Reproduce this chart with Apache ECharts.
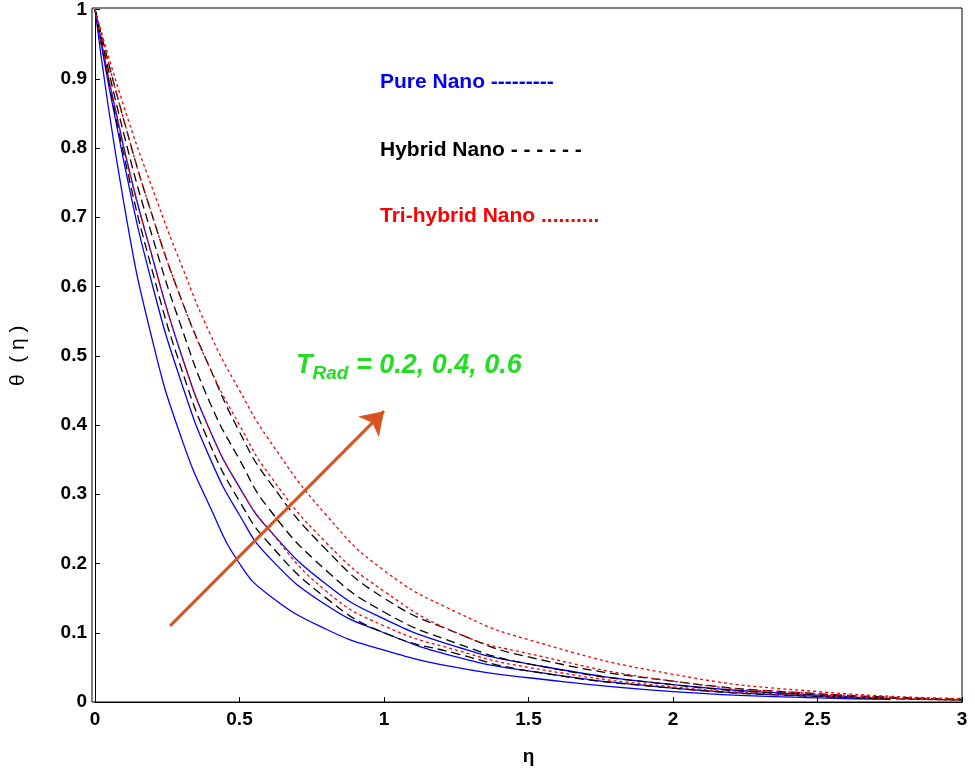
<!DOCTYPE html>
<html><head><meta charset="utf-8">
<script src="https://cdn.jsdelivr.net/npm/echarts@6/dist/echarts.min.js"></script>
<style>body{margin:0;background:#fff}#c{width:975px;height:778px}</style>
</head><body><div id="c"></div>
<script>
var etaPts = [0, 0.1, 0.2, 0.3, 0.4, 0.5, 0.6, 0.8, 1.0, 1.25, 1.5, 2.0, 2.5, 2.75];
var etaPtsLong = [0, 0.1, 0.2, 0.3, 0.4, 0.5, 0.6, 0.8, 1.0, 1.25, 1.5, 2.0, 2.5, 3.0];
var pure1 = [1, 0.72, 0.52, 0.38, 0.28, 0.20, 0.155, 0.105, 0.075, 0.05, 0.035, 0.015, 0.006, 0.004];
var pure2 = [1, 0.78, 0.60, 0.46, 0.35, 0.27, 0.21, 0.14, 0.10, 0.065, 0.045, 0.02, 0.008, 0.005];
var pure3 = [1, 0.80, 0.64, 0.50, 0.39, 0.31, 0.25, 0.17, 0.12, 0.08, 0.055, 0.025, 0.01, 0.005];
var hyb1 = [1, 0.79, 0.62, 0.48, 0.37, 0.29, 0.23, 0.15, 0.10, 0.07, 0.045, 0.02, 0.008, 0.003];
var hyb2 = [1, 0.82, 0.67, 0.54, 0.43, 0.35, 0.28, 0.19, 0.13, 0.085, 0.055, 0.025, 0.01, 0.003];
var hyb3 = [1, 0.84, 0.70, 0.58, 0.48, 0.39, 0.32, 0.22, 0.15, 0.10, 0.065, 0.03, 0.012, 0.004];
var tri1 = [1, 0.80, 0.64, 0.50, 0.39, 0.31, 0.25, 0.16, 0.11, 0.075, 0.05, 0.022, 0.009, 0.003];
var tri2 = [1, 0.84, 0.70, 0.58, 0.48, 0.40, 0.33, 0.23, 0.16, 0.10, 0.07, 0.03, 0.012, 0.004];
var tri3 = [1, 0.86, 0.74, 0.63, 0.53, 0.45, 0.38, 0.27, 0.19, 0.13, 0.09, 0.04, 0.015, 0.005];
var arrowFrom = [0.26, 0.11], arrowTo = [1.0, 0.42];

function pairs(xs, ys) { return xs.map(function (x, i) { return [x, ys[i]]; }); }
function mk(xs, ys, color, type) {
    return { type: 'line', smooth: 0.5, symbol: 'none', data: pairs(xs, ys),
        lineStyle: { color: color, width: 1.3, type: type } };
}
var axisLbl = { color: '#000', fontSize: 19, fontWeight: 'bold', fontFamily: 'Arial' };
var series = [
    mk(etaPts, pure1, '#0000ff', 'solid'), mk(etaPts, pure2, '#0000ff', 'solid'), mk(etaPts, pure3, '#0000ff', 'solid'),
    mk(etaPtsLong, hyb1, '#000', [9, 5]), mk(etaPtsLong, hyb2, '#000', [9, 5]), mk(etaPtsLong, hyb3, '#000', [9, 5]),
    mk(etaPtsLong, tri1, '#ff0000', [3, 3]), mk(etaPtsLong, tri2, '#ff0000', [3, 3]), mk(etaPtsLong, tri3, '#ff0000', [3, 3])
];
series.push({ type: 'line', data: [], markLine: { silent: true, symbol: ['none', 'arrow'], symbolSize: 22,
    lineStyle: { color: '#d9531e', width: 3, type: 'solid' }, label: { show: false },
    data: [[{ coord: arrowFrom }, { coord: arrowTo }]] } });
var chart = echarts.init(document.getElementById('c'));
chart.setOption({
    animation: false,
    grid: { left: 92, right: 13, top: 8, bottom: 76 },
    xAxis: { type: 'value', min: 0, max: 3, interval: 0.5, name: 'η', nameLocation: 'middle', nameGap: 45,
        nameTextStyle: axisLbl, axisLabel: axisLbl, axisTick: { inside: true, lineStyle: { color: '#000' } },
        axisLine: { lineStyle: { color: '#000' } }, splitLine: { show: false } },
    yAxis: { type: 'value', min: 0, max: 1, interval: 0.1, name: 'θ  ( η )', nameLocation: 'middle', nameGap: 66,
        nameTextStyle: { color: '#000', fontSize: 21, fontFamily: 'Arial' }, axisLabel: axisLbl,
        axisTick: { inside: true, lineStyle: { color: '#000' } }, axisLine: { lineStyle: { color: '#000' } },
        splitLine: { show: false } },
    graphic: [
        { type: 'rect', shape: { x: 92, y: 8, width: 870, height: 694 }, style: { fill: 'none', stroke: '#000', lineWidth: 1 } },
        { type: 'text', left: 380, top: 72, style: { text: 'Pure Nano ---------', fill: '#0000ff', font: 'bold 21px Arial' } },
        { type: 'text', left: 380, top: 140, style: { text: 'Hybrid Nano - - - - - -', fill: '#000', font: 'bold 21px Arial' } },
        { type: 'text', left: 380, top: 206, style: { text: 'Tri-hybrid Nano ..........', fill: '#ff0000', font: 'bold 21px Arial' } },
        { type: 'text', left: 296, top: 352, style: { text: '{t|T}{s|Rad}{t| = 0.2, 0.4, 0.6}',
            rich: { t: { fill: '#22dd22', font: 'italic bold 27px Arial' },
                    s: { fill: '#22dd22', font: 'italic bold 19px Arial', padding: [16, 0, 0, 0] } } } }
    ],
    series: series
});
</script></body></html>
